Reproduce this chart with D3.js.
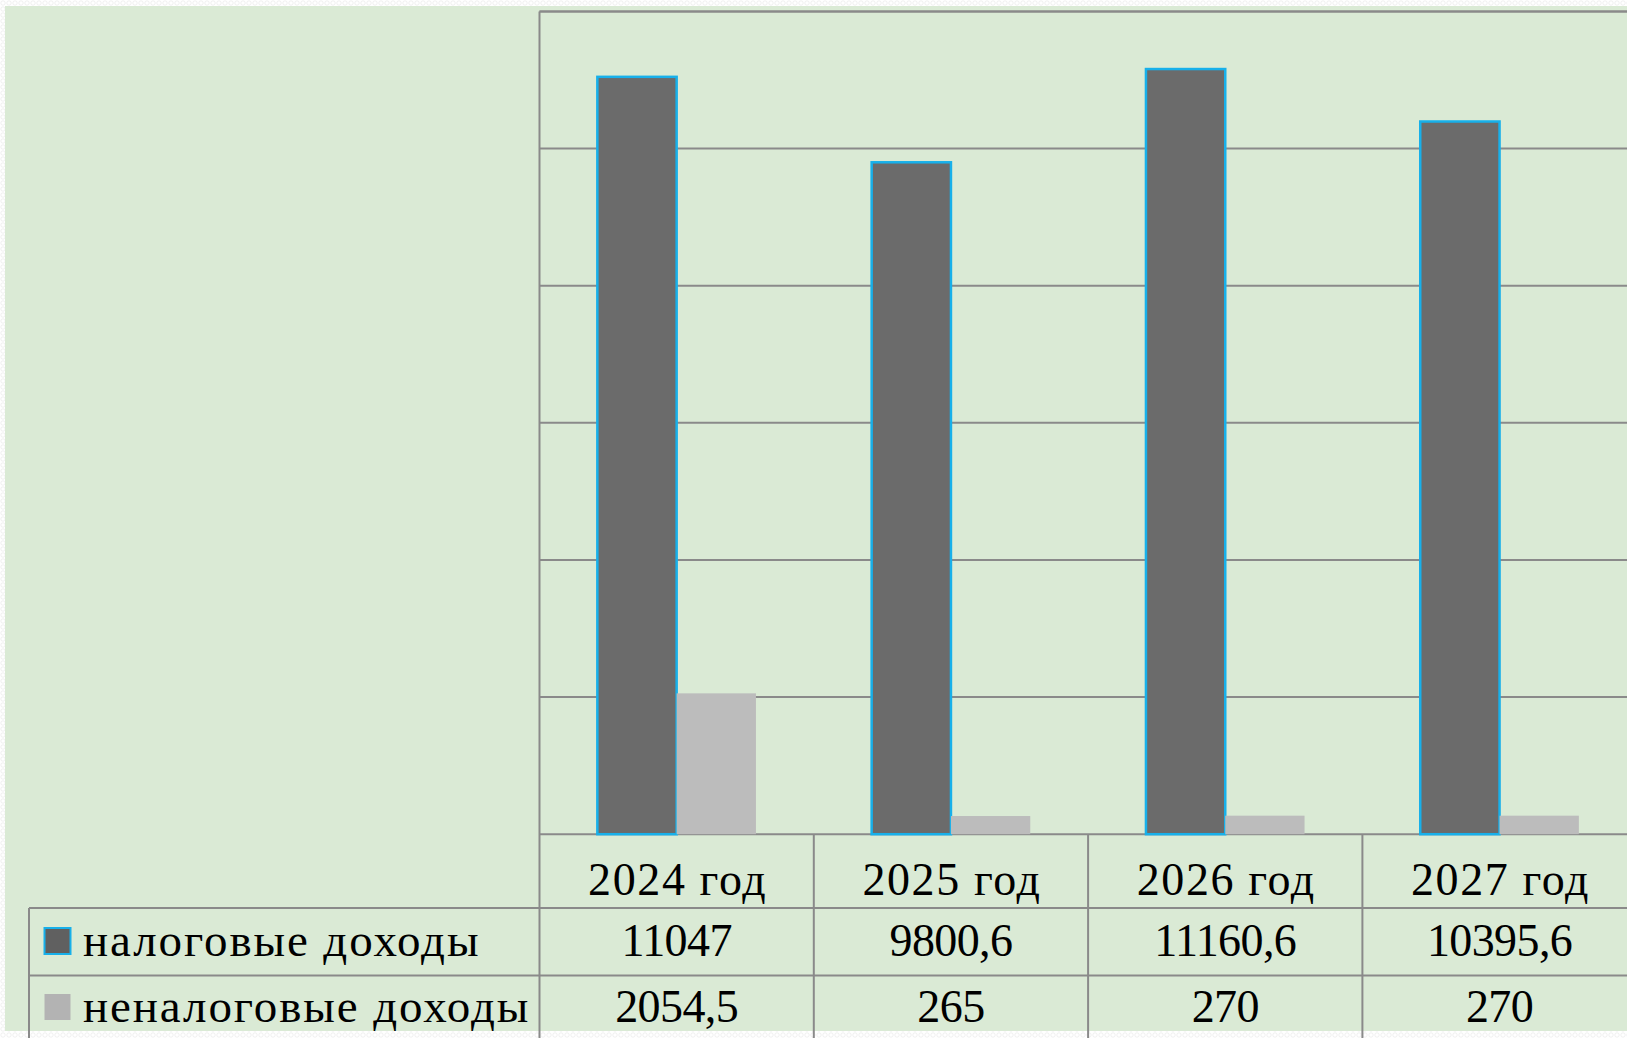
<!DOCTYPE html>
<html>
<head>
<meta charset="utf-8">
<script src="https://cdn.jsdelivr.net/npm/d3@7"></script>
<style>
  html, body { margin: 0; padding: 0; overflow: hidden; background: #fff; }
  text { font-family: "Liberation Serif", "DejaVu Serif", serif; fill: #000; }
</style>
</head>
<body>
<div id="chart"></div>
<script>
// chart data
const categories = ["2024 год", "2025 год", "2026 год", "2027 год"];
const seriesNames = ["налоговые доходы", "неналоговые доходы"];
const taxIncome = [11047, 9800.6, 11160.6, 10395.6];
const nonTaxIncome = [2054.5, 265, 270, 270];
const yTicks = [0, 2000, 4000, 6000, 8000, 10000, 12000];

const W = 1627, H = 1038;
const plot = {left: 539.5, top: 11.5, bottom: 834.2, band: 274.3};
const rowBottoms = [908, 975.5];   // table row separators
const tableLeft = 29;
const fontSize = 46;

const fillColors = ["#6b6b6b", "#bcbcbc"];
const lineColor = "#8a8a8a";
const bgColor = "#daead5";

const svg = d3.select("#chart").append("svg")
    .attr("width", W).attr("height", H);

// dotted slide border
const defs = svg.append("defs");
const pat = defs.append("pattern")
    .attr("id", "dots").attr("width", 6).attr("height", 6)
    .attr("patternUnits", "userSpaceOnUse");
pat.append("rect").attr("width", 6).attr("height", 6).attr("fill", "#fff");
pat.append("circle").attr("cx", 3).attr("cy", 3).attr("r", 2.2)
    .attr("fill", "none").attr("stroke", "#ececec").attr("stroke-width", 0.8);
svg.append("rect").attr("width", W).attr("height", H).attr("fill", "url(#dots)");
svg.append("rect").attr("x", 5).attr("y", 6).attr("width", W - 5).attr("height", 1031 - 6)
    .attr("fill", bgColor);

const x = d3.scaleBand()
    .domain(categories)
    .range([plot.left, plot.left + plot.band * categories.length])
    .padding(0);

const barW = 79.3;
const xs = d3.scaleBand()
    .domain(seriesNames)
    .range([0, barW * 2])
    .padding(0);

const y = d3.scaleLinear()
    .domain([0, d3.max(yTicks)])
    .range([plot.bottom, plot.top]);

// gridlines
svg.append("g").selectAll("line")
    .data(yTicks)
    .join("line")
    .attr("x1", plot.left).attr("x2", W)
    .attr("y1", d => y(d)).attr("y2", d => y(d))
    .attr("stroke", lineColor).attr("stroke-width", 2);

// bars
const series = [taxIncome, nonTaxIncome];
const groupOffset = (x.bandwidth() - barW * 2) / 2;
series.forEach((vals, si) => {
  svg.append("g").selectAll("rect")
      .data(vals)
      .join("rect")
      .attr("x", (d, i) => x(categories[i]) + groupOffset + xs(seriesNames[si]))
      .attr("y", d => y(d))
      .attr("width", xs.bandwidth())
      .attr("height", d => y(0) - y(d))
      .attr("fill", fillColors[si])
      .attr("stroke", si === 0 ? "#17b0ea" : "none")
      .attr("stroke-width", 2.5);
});

// table grid
const grid = svg.append("g")
    .attr("stroke", lineColor).attr("stroke-width", 2);
grid.append("line")
    .attr("x1", plot.left).attr("x2", plot.left)
    .attr("y1", plot.top).attr("y2", H);
grid.append("line")
    .attr("x1", plot.left).attr("x2", W)
    .attr("y1", plot.top).attr("y2", plot.top);
grid.selectAll(".v")
    .data(categories.slice(1))
    .join("line")
    .attr("x1", d => x(d)).attr("x2", d => x(d))
    .attr("y1", plot.bottom).attr("y2", H);
grid.append("line")
    .attr("x1", tableLeft).attr("x2", tableLeft)
    .attr("y1", rowBottoms[0]).attr("y2", H);
grid.selectAll(".h")
    .data(rowBottoms)
    .join("line")
    .attr("x1", tableLeft).attr("x2", W)
    .attr("y1", d => d).attr("y2", d => d);

const fmt = v => String(v).replace(".", ",");

// header row
svg.append("g").selectAll("text")
    .data(categories)
    .join("text")
    .attr("x", d => x(d) + x.bandwidth() / 2 + 1)
    .attr("y", 895)
    .attr("text-anchor", "middle")
    .attr("font-size", fontSize)
    .attr("letter-spacing", 1.6)
    .text(d => d);

// value rows and legend
const rowBase = [956, 1022];
series.forEach((vals, si) => {
  svg.append("g").selectAll("text")
      .data(vals)
      .join("text")
      .attr("x", (d, i) => x(categories[i]) + x.bandwidth() / 2)
      .attr("y", rowBase[si])
      .attr("text-anchor", "middle")
      .attr("font-size", fontSize)
      .attr("letter-spacing", -0.6)
      .text(d => fmt(d));

  svg.append("rect")
      .attr("x", 44.5).attr("y", rowBase[si] - 28)
      .attr("width", 26).attr("height", 26)
      .attr("fill", si === 0 ? "#606060" : "#b3b3b3")
      .attr("stroke", si === 0 ? "#17b0ea" : "none")
      .attr("stroke-width", 2);

  svg.append("text")
      .attr("x", 83).attr("y", rowBase[si])
      .attr("font-size", 47)
      .attr("letter-spacing", 1.9)
      .text(seriesNames[si]);
});
</script>
</body>
</html>
